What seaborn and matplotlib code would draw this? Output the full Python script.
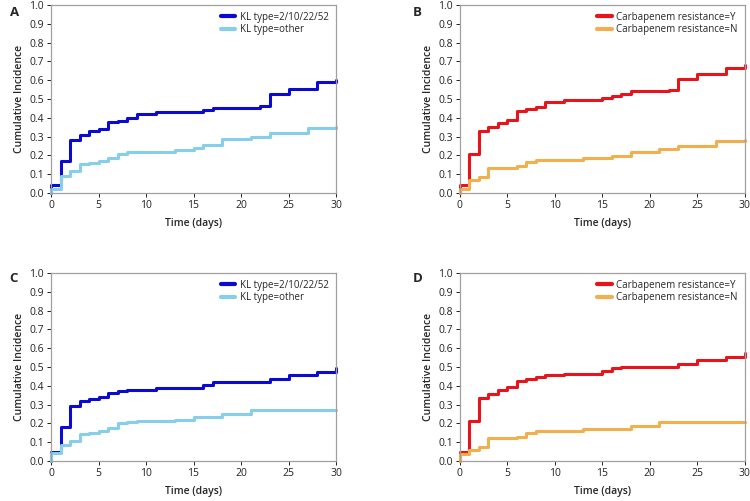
import matplotlib
matplotlib.use("Agg")
import matplotlib.pyplot as plt
import seaborn as sns
import pandas as pd
import numpy as np

# step times and cumulative incidence
a_kl_t = [0, 1, 2, 3, 4, 5, 6, 7, 8, 9, 11, 16, 17, 22, 23, 25, 28, 30]
a_kl_y = [0.04, 0.17, 0.28, 0.31, 0.33, 0.34, 0.375, 0.385, 0.40, 0.42, 0.43, 0.44, 0.45, 0.465, 0.525, 0.555, 0.59, 0.60]
a_ot_t = [0, 1, 2, 3, 4, 5, 6, 7, 8, 9, 13, 15, 16, 18, 21, 23, 27, 30]
a_ot_y = [0.02, 0.09, 0.115, 0.155, 0.16, 0.17, 0.185, 0.205, 0.215, 0.22, 0.23, 0.24, 0.255, 0.285, 0.30, 0.32, 0.345, 0.35]

b_y_t = [0, 1, 2, 3, 4, 5, 6, 7, 8, 9, 11, 15, 16, 17, 18, 22, 23, 25, 28, 30]
b_y_y = [0.04, 0.205, 0.33, 0.35, 0.37, 0.39, 0.435, 0.445, 0.455, 0.485, 0.495, 0.505, 0.515, 0.525, 0.54, 0.55, 0.605, 0.635, 0.665, 0.68]
b_n_t = [0, 1, 2, 3, 4, 6, 7, 8, 13, 16, 18, 21, 23, 27, 30]
b_n_y = [0.02, 0.07, 0.085, 0.13, 0.135, 0.145, 0.165, 0.175, 0.185, 0.195, 0.215, 0.235, 0.25, 0.275, 0.28]

c_kl_t = [0, 1, 2, 3, 4, 5, 6, 7, 8, 11, 16, 17, 23, 25, 28, 30]
c_kl_y = [0.05, 0.18, 0.29, 0.32, 0.33, 0.34, 0.36, 0.37, 0.38, 0.39, 0.405, 0.42, 0.435, 0.455, 0.475, 0.495]
c_ot_t = [0, 1, 2, 3, 4, 5, 6, 7, 8, 9, 13, 15, 18, 21, 30]
c_ot_y = [0.04, 0.085, 0.105, 0.145, 0.15, 0.16, 0.175, 0.20, 0.205, 0.21, 0.22, 0.235, 0.25, 0.27, 0.27]

d_y_t = [0, 1, 2, 3, 4, 5, 6, 7, 8, 9, 11, 15, 16, 17, 23, 25, 28, 30]
d_y_y = [0.05, 0.21, 0.335, 0.355, 0.375, 0.395, 0.425, 0.435, 0.445, 0.455, 0.465, 0.48, 0.495, 0.50, 0.515, 0.535, 0.555, 0.575]
d_n_t = [0, 1, 2, 3, 6, 7, 8, 13, 18, 21, 30]
d_n_y = [0.035, 0.06, 0.075, 0.12, 0.125, 0.15, 0.16, 0.17, 0.185, 0.205, 0.205]

kl_labels = ["KL type=2/10/22/52", "KL type=other"]
cr_labels = ["Carbapenem resistance=Y", "Carbapenem resistance=N"]
kl_colors = ["#0a0ad2", "#87ceeb"]
cr_colors = ["#e8141c", "#f0b04e"]

panels = [
    ("A", [(a_kl_t, a_kl_y), (a_ot_t, a_ot_y)], kl_labels, kl_colors, [0.068, 0.615, 0.38, 0.375], (0.013, 0.988)),
    ("B", [(b_y_t, b_y_y), (b_n_t, b_n_y)], cr_labels, cr_colors, [0.613, 0.615, 0.38, 0.375], (0.550, 0.988)),
    ("C", [(c_kl_t, c_kl_y), (c_ot_t, c_ot_y)], kl_labels, kl_colors, [0.068, 0.080, 0.38, 0.375], (0.013, 0.458)),
    ("D", [(d_y_t, d_y_y), (d_n_t, d_n_y)], cr_labels, cr_colors, [0.613, 0.080, 0.38, 0.375], (0.550, 0.458)),
]

sns.set_style("white")
plt.rcParams['font.family'] = ['Open Sans', 'DejaVu Sans']

fig = plt.figure(figsize=(7.5, 5.01), dpi=100)

for letter, curves, labels, colors, rect, lpos in panels:
    ax = fig.add_axes(rect)
    rows = []
    for (t, y), lab in zip(curves, labels):
        rows.append({"time": 0, "ci": 0.0, "group": lab})
        for ti, yi in zip(t, y):
            rows.append({"time": ti, "ci": yi, "group": lab})
    df = pd.DataFrame(rows)
    sns.lineplot(data=df, x="time", y="ci", hue="group", hue_order=labels,
                 palette=colors, estimator=None, sort=False,
                 drawstyle="steps-post", linewidth=2.2, ax=ax, clip_on=False)
    ax.set_xlim(0, 30)
    ax.set_ylim(0, 1.0)
    ax.set_xticks(np.arange(0, 31, 5))
    ax.set_yticks(np.arange(0, 1.01, 0.1))
    ax.set_yticklabels([f"{v:.1f}" for v in np.arange(0, 1.01, 0.1)])
    ax.tick_params(axis="both", labelsize=7.5, length=3, width=0.7,
                   colors="#222222", direction="out", bottom=True, left=True, pad=2)
    for s in ax.spines.values():
        s.set_color("#a0a0a0")
        s.set_linewidth(0.9)
    ax.set_xlabel("Time (days)", fontsize=7.5, fontweight="semibold", labelpad=5)
    ax.set_ylabel("Cumulative Incidence", fontsize=7.5, fontweight="semibold", labelpad=3)
    leg = ax.legend(loc="upper right", frameon=False, fontsize=7, handlelength=1.5,
                    handletextpad=0.5, labelspacing=0.15, borderaxespad=0.3)
    for line in leg.get_lines():
        line.set_linewidth(3)
    fig.text(lpos[0], lpos[1], letter, fontsize=9.5, fontweight="bold", va="top", ha="left")

fig.savefig("out.png", dpi=100)
